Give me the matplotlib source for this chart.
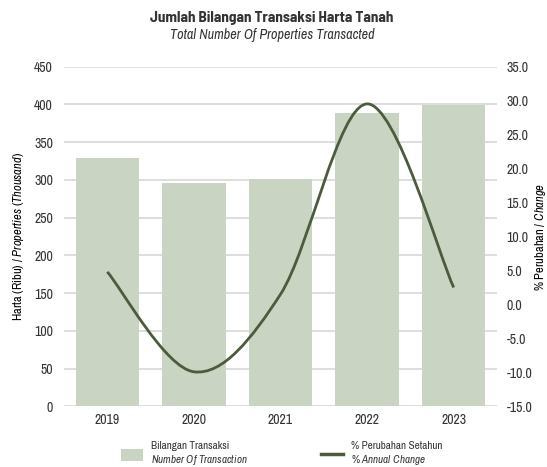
import numpy as np
import matplotlib
matplotlib.use("Agg")
import matplotlib.pyplot as plt
from matplotlib.path import Path
from matplotlib.patches import PathPatch, Patch
from matplotlib.lines import Line2D

years = ["2019", "2020", "2021", "2022", "2023"]
transactions = [328.6, 296.0, 300.5, 389.1, 399.0]   # ribu / thousand
annual_change = [4.8, -9.9, 1.5, 29.5, 2.5]          # %

bar_color = "#c9d4c3"
line_color = "#4a5c3c"
grid_color = "#d4d4d4"
text_color = "#333333"

narrow = "Archivo Narrow"
plt.rcParams["font.family"] = [narrow, "Liberation Sans", "DejaVu Sans"]
plt.rcParams["mathtext.fontset"] = "custom"
plt.rcParams["mathtext.rm"] = narrow
plt.rcParams["mathtext.it"] = narrow + ":italic"
plt.rcParams["text.color"] = text_color


def smooth_path(xs, ys):
    # excel-like smoothed line: cubic bezier through each point
    pts = np.column_stack([xs, ys]).astype(float)
    n = len(pts)
    verts = [pts[0]]
    codes = [Path.MOVETO]
    for i in range(n - 1):
        p0 = pts[i - 1] if i > 0 else pts[i]
        p1 = pts[i]
        p2 = pts[i + 1]
        p3 = pts[i + 2] if i + 2 < n else pts[i + 1]
        c1 = p1 + (p2 - p0) / 6.0
        c2 = p2 - (p3 - p1) / 6.0
        verts += [c1, c2, p2]
        codes += [Path.CURVE4] * 3
    return Path(verts, codes)


fig = plt.figure(figsize=(5.47, 4.67), dpi=100)
ax = fig.add_axes([0.117, 0.1296, 0.7916, 0.728])
x = np.arange(len(years))

ax.bar(x, transactions, width=0.73, color=bar_color, zorder=2)
ax.set_xlim(-0.5, len(years) - 0.5)
ax.set_ylim(0, 450)
ax.set_yticks(np.arange(0, 451, 50))
ax.set_xticks(x)
ax.set_xticklabels(years)
ax.yaxis.grid(True, color=grid_color, lw=1.1, zorder=0)
ax.set_axisbelow(True)
for s in ax.spines.values():
    s.set_visible(False)
ax.tick_params(axis="both", length=0, labelsize=10, colors=text_color)
ax.tick_params(axis="y", pad=8)
ax.tick_params(axis="x", pad=5)
ax.set_ylabel(r"Harta (Ribu) / $\it{Properties\ (Thousand)}$", fontsize=9, labelpad=6)

ax2 = ax.twinx()
ax2.set_ylim(-15, 35)
ax2.set_yticks(np.arange(-15, 36, 5))
ax2.set_yticklabels([f"{v:.1f}" for v in np.arange(-15, 36, 5)])
for s in ax2.spines.values():
    s.set_visible(False)
ax2.tick_params(axis="y", length=0, labelsize=10, colors=text_color, pad=7)
ax2.set_ylabel(r"% Perubahan / $\it{Change}$", fontsize=9)
ax2.yaxis.set_label_coords(1.083, 0.5)
ax2.add_patch(PathPatch(smooth_path(x, annual_change), facecolor="none",
                        edgecolor=line_color, lw=2.0, zorder=3))

fig.text(0.497, 0.961, "Jumlah Bilangan Transaksi Harta Tanah", ha="center",
         va="center", fontsize=11, fontweight="bold",
         family=["Barlow Semi Condensed", "DejaVu Sans"])
fig.text(0.497, 0.925, "Total Number Of Properties Transacted", ha="center",
         va="center", fontsize=10.2, style="italic")

handles = [Patch(facecolor=bar_color, edgecolor="none"),
           Line2D([0], [0], color=line_color, lw=2.5)]
labels = ["Bilangan Transaksi\n" + r"$\it{Number\ Of\ Transaction}$",
          "% Perubahan Setahun\n" + r"$\it{\%\ Annual\ Change}$"]
fig.legend(handles, labels, loc="center", bbox_to_anchor=(0.515, 0.027),
           ncol=2, frameon=False, fontsize=8, columnspacing=6.6,
           handlelength=2.0, handleheight=1.3, handletextpad=0.7,
           labelspacing=0.2)

fig.savefig("out.png", dpi=100)
